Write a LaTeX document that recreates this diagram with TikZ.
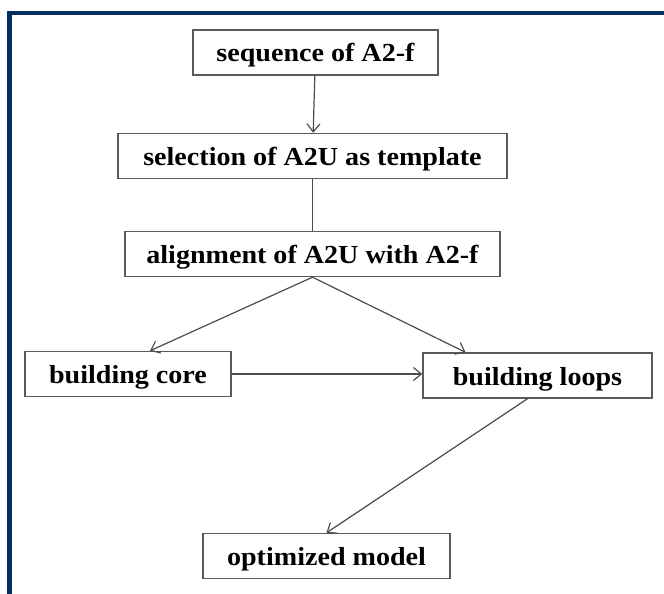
\documentclass[tikz,border=0pt]{standalone}
\usepackage{fontspec}
\setmainfont{Liberation Serif}[FakeStretch=1.08]
\usetikzlibrary{arrows.meta}
\definecolor{frameblue}{HTML}{00305F}
\definecolor{boxgray}{HTML}{5A5A5A}

\begin{document}
\begin{tikzpicture}[x=1pt, y=-1pt,
  font=\fontsize{26}{30}\selectfont\bfseries,
  >={Straight Barb[length=8pt, width=13pt]},
  stepbox/.style={draw=boxgray, line width=1.4pt, fill=white, inner sep=0pt,
                  minimum height=45pt, text height=19pt, text depth=0pt},
  arr/.style={->, line width=1.2pt, draw=black!70},
  ln/.style={line width=1.2pt, draw=black!70},
]
\useasboundingbox (0,0) rectangle (664,594);
% frame
\draw[frameblue, line width=4.5pt] (7,13) -- (664,13);
\draw[frameblue, line width=5pt] (9.5,10.75) -- (9.5,594);

\node[stepbox, minimum width=245pt] (seq)   at (315.5,52.5) {sequence of A2-f};
\node[stepbox, minimum width=389pt] (sel)   at (312.5,156)  {selection of A2U as template};
\node[stepbox, minimum width=375pt] (align) at (312.5,254)  {alignment of A2U with A2-f};
\node[stepbox, minimum width=206pt] (core)  at (128,374)    {building core};
\node[stepbox, minimum width=229pt] (loops) at (537.5,375.5) {building loops};
\node[stepbox, minimum width=247pt] (opt)   at (326.5,556)  {optimized model};

\draw[arr] (seq) -- (sel);
\draw[ln]  (sel) -- (align);
\draw[arr] (align.south) -- ([xshift=22pt]core.north);
\draw[arr] (align.south) -- ([xshift=-72pt]loops.north);
\draw[arr] (core.east) -- (core.east -| loops.west);
\draw[arr] ([xshift=-10pt]loops.south) -- (opt.north);
\end{tikzpicture}
\end{document}
